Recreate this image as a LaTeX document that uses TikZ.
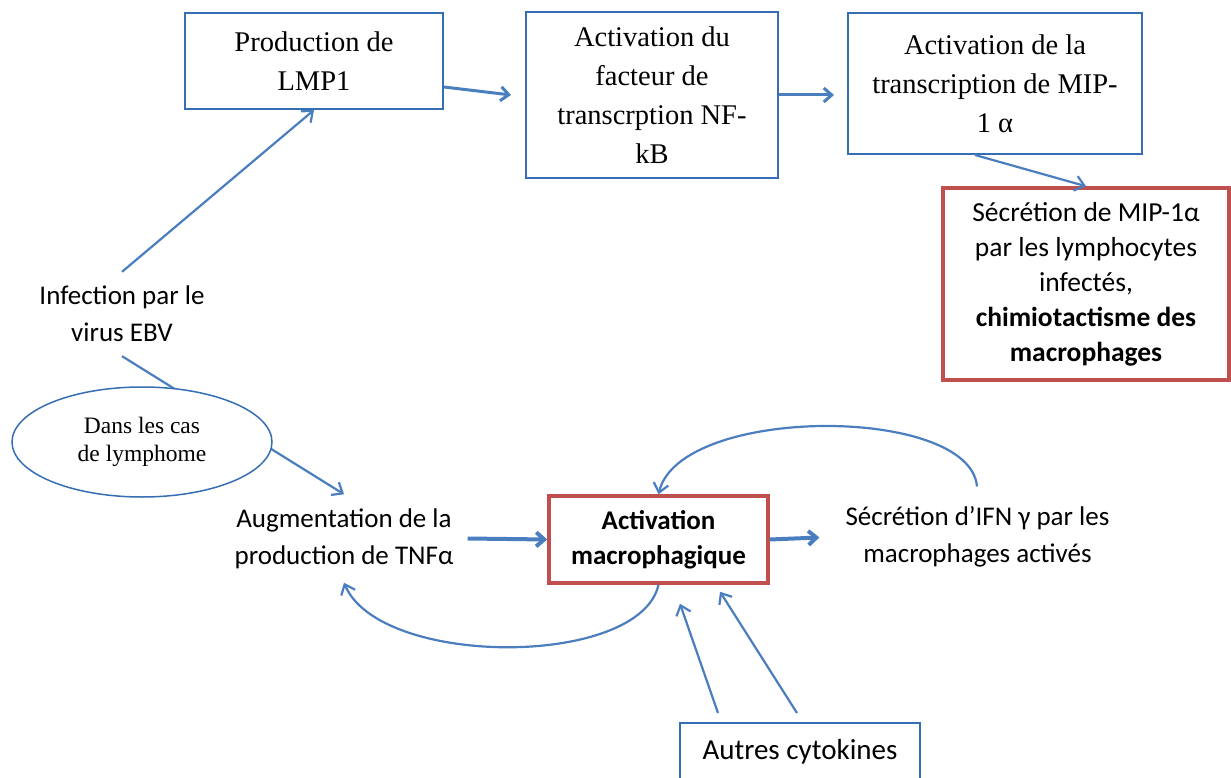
\documentclass[tikz,border=0pt]{standalone}
\usepackage{fontspec}
\setmainfont{Liberation Serif}
\newfontfamily\calibri{Carlito}
\usetikzlibrary{arrows.meta,shapes.geometric,backgrounds}
\definecolor{boxblue}{RGB}{54,110,180}
\definecolor{arrowblue}{RGB}{74,126,190}
\definecolor{boxred}{RGB}{192,80,77}

\begin{document}
\begin{tikzpicture}[x=1pt, y=-1pt,
    blockbox/.style={rectangle, draw=boxblue, line width=2pt, align=center, inner sep=0pt, font=\fontsize{28.5}{39}\selectfont},
    redbox/.style={rectangle, draw=boxred, line width=3.5pt, align=center, inner sep=0pt, font=\calibri\fontsize{27.5}{35}\selectfont},
    plain/.style={align=center, inner sep=14pt, font=\calibri\fontsize{27}{37}\selectfont},
    link/.style={draw=arrowblue, line width=2.2pt, -{Straight Barb[length=9pt,width=15pt]}},
    biglink/.style={draw=arrowblue, line width=4pt, -{Straight Barb[length=8pt,width=14pt]}}
]
    \useasboundingbox (0,0) rectangle (1231,778);

    % Top row
    \node[blockbox, minimum width=258, minimum height=96] (lmp) at (314,61) {Production de\\LMP1};
    \node[blockbox, minimum width=252, minimum height=166] (nfkb) at (652,95) {Activation du\\facteur de\\transcrption NF-\\kB};
    \node[blockbox, minimum width=294, minimum height=141] (mip) at (995,83.5) {Activation de la\\transcription de MIP-\\1 α};
    \node[redbox, minimum width=286, minimum height=192] (secr) at (1086,284) {Sécrétion de MIP-1α\\par les lymphocytes\\infectés,\\\textbf{chimiotactisme des}\\\textbf{macrophages}};

    % Left side
    \node[plain] (inf) at (122,314) {Infection par le\\virus EBV};
    \node[ellipse, draw=boxblue, line width=1.5pt, fill=white, minimum width=260, minimum height=110, inner sep=0pt, align=center, font=\fontsize{23.5}{28}\selectfont] (lymph) at (142,442) {Dans les cas\\de lymphome};

    % Bottom row
    \node[plain] (aug) at (344,538.5) {Augmentation de la\\production de TNFα};
    \node[redbox, font=\calibri\bfseries\fontsize{27}{35}\selectfont, minimum width=219, minimum height=87] (act) at (658.5,539.5) {Activation\\macrophagique};
    \node[plain] (ifn) at (977.5,537) {Sécrétion d’IFN γ par les\\macrophages activés};
    \node[rectangle, draw=boxblue, line width=2pt, minimum width=240, minimum height=80, anchor=north, text height=20pt, text depth=28pt, font=\calibri\fontsize{29}{35}\selectfont] (autres) at (800,722) {Autres cytokines};

    % Arrows
    \draw[link] (inf.north) -- (lmp.south);
    \begin{pgfonlayer}{background}
        \draw[link] (inf.south) -- (aug.north);
    \end{pgfonlayer}
    \draw[biglink, line width=3pt] ([yshift=-26pt]lmp.east) -- ([xshift=-14pt]nfkb.west);
    \draw[biglink, line width=3pt] (nfkb.east) -- ([xshift=-13pt]nfkb.east -| mip.west);
    \draw[link] ([xshift=-20pt]mip.south) -- (secr.north);
    \draw[biglink] (aug.east) -- (act.west);
    \draw[biglink, shorten >=12pt] (act.east) -- (ifn.west);

    % Feedback loops
    \draw[link, shorten <=6pt] (ifn.north) .. controls (970,405) and (680,405) .. (act.north);
    \draw[link] (act.south) .. controls (640,668) and (380,668) .. (aug.south);

    % Cytokines
    \draw[link] ([xshift=-82pt,yshift=9pt]autres.north) -- ([xshift=21.5pt,yshift=-19pt]act.south);
    \draw[link] ([xshift=-3pt,yshift=9pt]autres.north) -- ([xshift=61.5pt,yshift=-7pt]act.south);
\end{tikzpicture}
\end{document}
